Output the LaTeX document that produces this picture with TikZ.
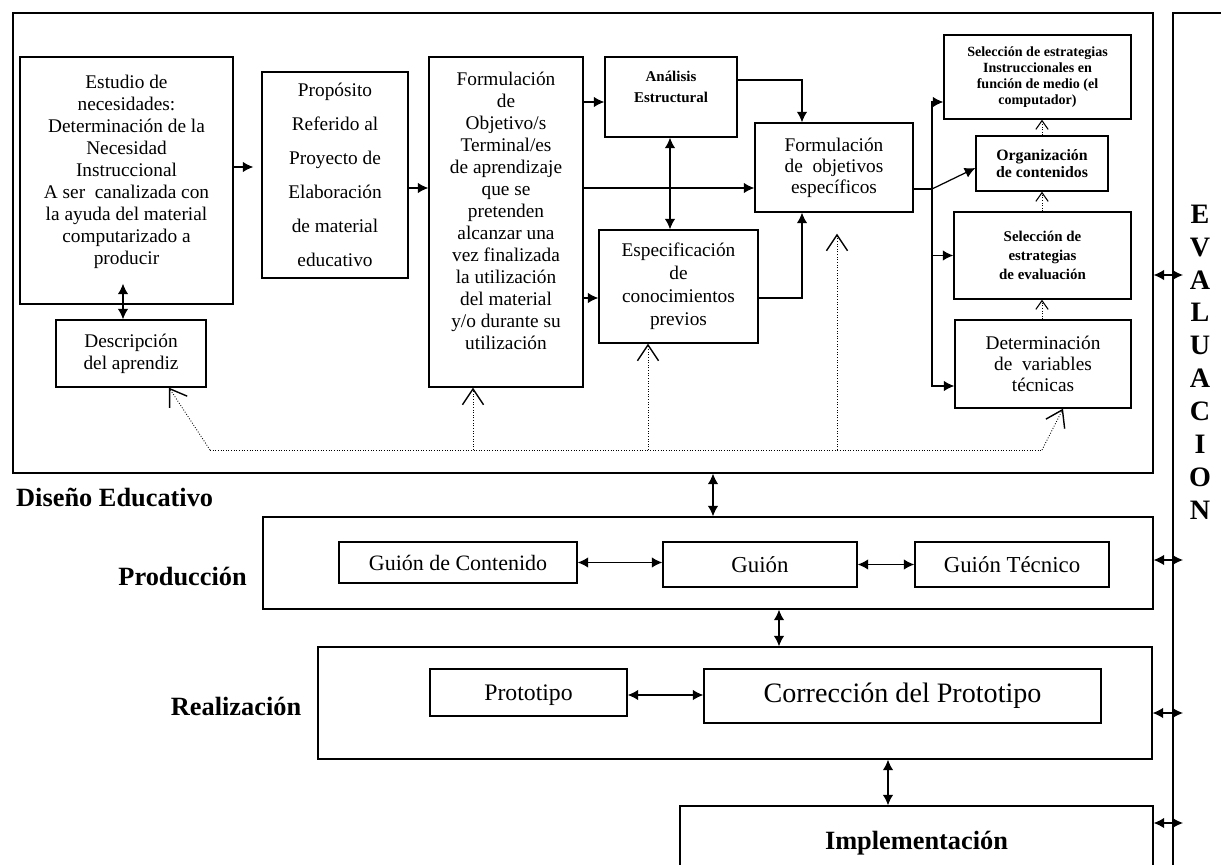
\documentclass[tikz,border=0pt]{standalone}
\usepackage{fontspec}
\setmainfont{Liberation Serif}
\usetikzlibrary{arrows.meta, positioning, calc}
\tikzset{
  block/.style={rectangle, draw, line width=0.8pt, inner sep=0pt, align=center},
  frm/.style={rectangle, draw, line width=0.8pt, inner sep=0pt},
  txt/.style={font=\fontsize{11}{12.5}\selectfont},
  hdr/.style={font=\fontsize{15}{17}\selectfont\bfseries},
  arr/.style={-{Latex[length=6pt,width=6pt]}, line width=0.7pt},
  darr/.style={{Latex[length=6pt,width=6pt]}-{Latex[length=6pt,width=6pt]}, line width=0.7pt},
  fb/.style={densely dotted, line width=0.5pt,
    -{Straight Barb[length=9pt,width=12pt,line width=0.8pt]}},
  fbs/.style={densely dotted, line width=0.5pt,
    -{Straight Barb[length=5pt,width=7pt,line width=0.6pt]}}
}

\begin{document}
\begin{tikzpicture}[x=0.02cm, y=-0.02cm]
  \useasboundingbox (0,0) rectangle (1221,865);

  %% --- Diseno educativo ---------------------------------
  \node[frm, minimum width=22.8cm, minimum height=9.2cm] (diseno) at (583,243) {};
  \node[hdr, anchor=west] (ldis) at (10,497) {Diseño Educativo};

  \node[block, txt, minimum width=4.26cm, minimum height=4.94cm] (estudio) at (126.5,180.5)
    {Estudio de\\necesidades:\\Determinación de la\\Necesidad\\Instruccional\\A ser\ \ canalizada con\\la ayuda del material\\computarizado a\\producir\\~};
  \node[block, txt, minimum width=3.0cm, minimum height=1.34cm] (desc) at (131,353.5)
    {Descripción\\del aprendiz};
  \node[block, font=\fontsize{11}{19.3}\selectfont, minimum width=2.92cm, minimum height=4.12cm] (prop) at (335,175)
    {Propósito\\Referido al\\Proyecto de\\Elaboración\\de material\\educativo};
  \node[block, txt, minimum width=3.08cm, minimum height=6.6cm] (form) at (506,222)
    {Formulación\\de\\Objetivo/s\\Terminal/es\\de aprendizaje\\que se\\pretenden\\alcanzar una\\vez finalizada\\la utilización\\del material\\y/o durante su\\utilización\\~};
  \node[block, font=\fontsize{8.5}{12}\selectfont\bfseries, minimum width=2.64cm, minimum height=1.6cm] (anal) at (671,97)
    {Análisis\\Estructural\\~};
  \node[block, font=\fontsize{11}{13}\selectfont, minimum width=3.18cm, minimum height=2.26cm] (espec) at (678.5,286.5)
    {Especificación\\de\\conocimientos\\previos};
  \node[block, font=\fontsize{11}{12}\selectfont, minimum width=3.16cm, minimum height=1.78cm] (fobj) at (834,167.5)
    {Formulación\\de\ \ objetivos\\específicos};

  %% columna derecha
  \node[block, font=\fontsize{8}{9}\selectfont\bfseries, minimum width=3.74cm, minimum height=1.68cm] (selins) at (1037.5,77)
    {Selección de estrategias\\Instruccionales en\\función de medio (el\\computador)};
  \node[block, font=\fontsize{9}{10}\selectfont\bfseries, minimum width=2.64cm, minimum height=1.1cm] (orgc) at (1042,163.5)
    {Organización\\de contenidos};
  \node[block, font=\fontsize{8.5}{11}\selectfont\bfseries, minimum width=3.54cm, minimum height=1.74cm] (seleval) at (1042.5,255.5)
    {Selección de\\estrategias\\de evaluación};
  \node[block, font=\fontsize{11}{12}\selectfont, minimum width=3.52cm, minimum height=1.76cm] (detvar) at (1043,364)
    {Determinación\\de\ \ variables\\técnicas};

  \draw[darr] ($(estudio.south -| 123,0)+(0,-21)$) -- (desc.north -| 123,0);
  \draw[arr] (estudio.east |- 0,167) -- ($(prop.west |- 0,167)+(-8,0)$);
  \draw[arr] (prop.east |- 0,188) -- (form.west |- 0,188);
  \draw[arr] (form.east |- 0,102) -- (anal.west |- 0,102);
  \draw[arr] (form.east |- 0,298) -- (espec.west |- 0,298);
  \draw[arr] (form.east |- 0,188) -- (fobj.west |- 0,188);
  \draw[darr] (anal.south -| 670,0) -- (espec.north -| 670,0);
  \draw[arr] (anal.east |- 0,80) -| (fobj.north -| 802,0);
  \draw[arr] (espec.east |- 0,298) -| (fobj.south -| 802,0);

  \coordinate (br) at (932,189);
  \draw[line width=0.7pt] (fobj.east |- br) -- (br);
  \draw[arr] (br) |- (selins.west |- 0,102);
  \draw[arr] (br) |- (seleval.west);
  \draw[arr] (br) |- (detvar.west |- 0,386);
  \draw[arr] (br) -- (orgc.west |- 0,168);

  \draw[fbs] (detvar.north -| 1042,0) -- (seleval.south -| 1042,0);
  \draw[fbs] (seleval.north -| 1042,0) -- (orgc.south -| 1042,0);
  \draw[fbs] (orgc.north -| 1042,0) -- (selins.south -| 1042,0);

  %% retroalimentacion (punteada)
  \coordinate (fbl) at (210,450);
  \coordinate (fbr) at (1042,450);
  \draw[densely dotted, line width=0.5pt] (fbl) -- (fbr);
  \draw[fb] (fbl) -- (desc.south -| 169,0);
  \draw[fb] (fbl -| 473,0) -- (form.south -| 473,0);
  \draw[fb] (fbl -| 648,0) -- (espec.south -| 648,0);
  \draw[fb] (fbl -| 837,0) -- ($(fobj.south)+(3,21)$);
  \draw[fb] (fbr) -- (detvar.south -| 1063,0);

  %% --- Produccion / Realizacion / Implementacion --------
  \node[frm, minimum width=17.8cm, minimum height=1.84cm] (prod) at (708,563) {};
  \node[hdr, anchor=east] (lprod) at (253,577) {Producción};
  \node[block, font=\fontsize{12.5}{14}\selectfont, minimum width=4.76cm, minimum height=0.82cm] (gcont) at (458,562.5) {Guión de Contenido};
  \node[block, font=\fontsize{13}{14}\selectfont, minimum width=3.88cm, minimum height=0.9cm] (guion) at (760,564.5) {Guión};
  \node[block, font=\fontsize{13}{14}\selectfont, minimum width=3.88cm, minimum height=0.9cm] (gtec) at (1012,564.5) {Guión Técnico};

  \node[frm, minimum width=16.68cm, minimum height=2.24cm] (real) at (735,703) {};
  \node[hdr, left=0.2cm of real, yshift=-2pt] (lreal) {Realización};
  \node[block, font=\fontsize{13.5}{15}\selectfont, minimum width=3.94cm, minimum height=0.94cm, text depth=0pt] (proto) at (528.5,692.5) {Prototipo};
  \node[block, font=\fontsize{16}{18}\selectfont, minimum width=7.94cm, minimum height=1.08cm] (corr) at (902.5,696) {Corrección del Prototipo};

  \node[block, hdr, minimum width=9.46cm, minimum height=1.48cm] (impl) at (916.5,843) {Implementación};

  \draw[darr] (diseno.south -| 713,0) -- (prod.north -| 713,0);
  \draw[darr] (gcont.east) -- (guion.west |- gcont.east);
  \draw[darr] (guion.east) -- (gtec.west);
  \draw[darr] (prod.south -| 779,0) -- (real.north -| 779,0);
  \draw[darr] (proto.east |- 0,695) -- (corr.west |- 0,695);
  \draw[darr] (real.south -| 888,0) -- (impl.north -| 888,0);

  %% --- Evaluacion ---------------------------------------
  \draw[line width=0.8pt] (1221,13) -| (1173,865);
  \node[font=\fontsize{16}{18.7}\selectfont\bfseries, align=center] (eval) at (1200,362)
    {E\\V\\A\\L\\U\\A\\C\\I\\O\\N};
  \coordinate (evx) at (1183,0);
  \draw[darr] (diseno.east |- 0,275) -- (evx |- 0,275);
  \draw[darr] (prod.east |- 0,560) -- (evx |- 0,560);
  \draw[darr] (real.east |- 0,713) -- (evx |- 0,713);
  \draw[darr] (impl.east |- 0,823) -- (evx |- 0,823);

\end{tikzpicture}
\end{document}
